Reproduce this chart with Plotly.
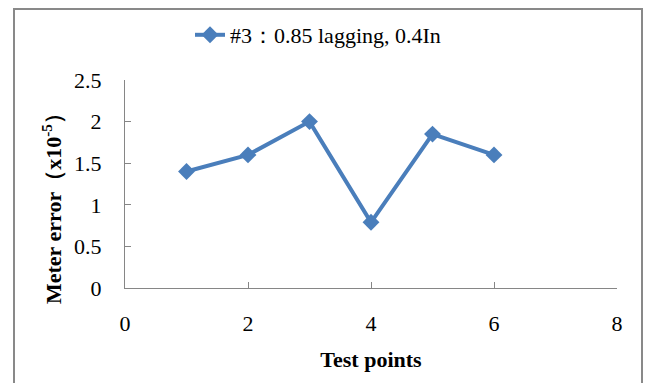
import plotly.graph_objects as go

test_points = [1, 2, 3, 4, 5, 6]
meter_error = [1.40, 1.60, 2.00, 0.79, 1.85, 1.60]
series_name = "#3：0.85 lagging, 0.4In"
x_ticks = [0, 2, 4, 6, 8]
y_ticks = [0, 0.5, 1, 1.5, 2, 2.5]
y_tick_text = ["0", "0.5", "1", "1.5", "2", "2.5"]

W, H = 650, 383
L, R, T, B = 125, 33, 80, 95
pw, ph = W - L - R, H - T - B

def px(xp):
    return (xp - L) / pw

def py(yp):
    return (H - B - yp) / ph

BLUE = "#4a7ebb"
AX = "#868686"
FONT = "Liberation Serif"
FS = 22

fig = go.Figure()
fig.add_trace(go.Scatter(
    x=test_points, y=meter_error, mode="lines+markers", name=series_name,
    line=dict(color=BLUE, width=4),
    marker=dict(symbol="diamond", size=13, color=BLUE),
))

fig.update_layout(
    width=W, height=H,
    margin=dict(l=L, r=R, t=T, b=B, autoexpand=False),
    paper_bgcolor="white", plot_bgcolor="white",
    font=dict(family=FONT, size=FS, color="black"),
    showlegend=True,
    legend=dict(orientation="h", x=px(190), xanchor="left", y=py(35), yanchor="middle",
                font=dict(family=FONT, size=FS, color="black"),
                bgcolor="rgba(0,0,0,0)", itemwidth=30),
    xaxis=dict(range=[0, 8], tickvals=x_ticks, showgrid=False, zeroline=False,
               showline=True, linecolor=AX, linewidth=1,
               ticks="inside", ticklen=6, tickcolor=AX,
               ticklabelstandoff=16,
               tickfont=dict(family=FONT, size=FS, color="black"),
               title=dict(text="<b>Test points</b>", font=dict(family=FONT, size=FS, color="black"),
                          standoff=16)),
    yaxis=dict(range=[0, 2.5], tickvals=y_ticks, ticktext=y_tick_text, showgrid=False, zeroline=False,
               showline=True, linecolor=AX, linewidth=1,
               ticks="inside", ticklen=6, tickcolor=AX,
               ticklabelstandoff=18,
               tickfont=dict(family=FONT, size=FS, color="black")),
    shapes=[dict(type="rect", xref="paper", yref="paper",
                 x0=px(14), x1=px(642), y0=py(395), y1=py(9),
                 line=dict(color="#898989", width=2), layer="below")],
    annotations=[dict(text="<b>Meter error（x10<sup>-5</sup>）</b>", textangle=-90,
                      xref="paper", yref="paper", x=px(52), y=py(203),
                      xanchor="center", yanchor="middle", showarrow=False,
                      font=dict(family=FONT, size=FS, color="black"))],
)

fig.write_html("out.html")
